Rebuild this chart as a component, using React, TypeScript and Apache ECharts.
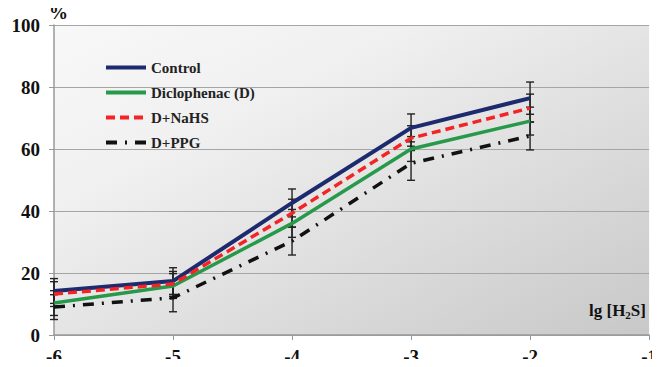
import React, { useEffect, useRef } from "react";
import * as echarts from "echarts";

const xValues = [-6, -5, -4, -3, -2];
const control = [14.2, 17.4, 42.6, 66.8, 76.4];
const diclofenac = [10.3, 15.8, 36.0, 60.0, 69.0];
const nahs = [13.2, 16.5, 39.3, 63.5, 73.2];
const ppg = [9.0, 12.0, 30.3, 55.4, 64.2];
const controlErr = [4.0, 4.3, 4.5, 4.5, 5.2];
const diclofenacErr = [4.0, 4.0, 4.5, 4.0, 4.5];
const nahsErr = [4.0, 4.0, 4.5, 4.0, 4.5];
const ppgErr = [4.0, 4.5, 4.5, 5.5, 4.5];
const seriesNames = ["Control", "Diclophenac (D)", "D+NaHS", "D+PPG"];

const FONT = "Times New Roman, Liberation Serif, DejaVu Serif, serif";

function errorSeries(vals: number[], errs: number[]) {
  return {
    type: "custom",
    silent: true,
    z: 1,
    data: xValues.map((x, i) => [x, vals[i] - errs[i], vals[i] + errs[i]]),
    renderItem: (params: any, api: any) => {
      const x = api.value(0);
      const lo = api.coord([x, api.value(1)]);
      const hi = api.coord([x, api.value(2)]);
      const w = 4;
      const st = { stroke: "#222", lineWidth: 1.4 };
      return {
        type: "group",
        children: [
          { type: "line", shape: { x1: lo[0], y1: lo[1], x2: hi[0], y2: hi[1] }, style: st },
          { type: "line", shape: { x1: lo[0] - w, y1: lo[1], x2: lo[0] + w, y2: lo[1] }, style: st },
          { type: "line", shape: { x1: hi[0] - w, y1: hi[1], x2: hi[0] + w, y2: hi[1] }, style: st },
        ],
      };
    },
  };
}

export default function App() {
  const ref = useRef<HTMLDivElement>(null);
  useEffect(() => {
    const chart = echarts.init(ref.current!, null, { renderer: "svg" });
    const mk = (name: string, vals: number[], color: string, width: number, type: any, z: number) => ({
      name,
      type: "line",
      z,
      symbol: "none",
      data: xValues.map((x, i) => [x, vals[i]]),
      lineStyle: { color, width, type },
      itemStyle: { color },
    });
    chart.setOption({
      animation: false,
      backgroundColor: "#ffffff",
      grid: {
        left: 54,
        right: 7,
        top: 25,
        bottom: 32,
        show: true,
        borderWidth: 0,
        backgroundColor: new echarts.graphic.LinearGradient(0, 0, 1, 1, [
          { offset: 0, color: "#f8f8f8" },
          { offset: 0.3, color: "#f0f0f0" },
          { offset: 1, color: "#c8c8c8" },
        ]),
      },
      legend: {
        orient: "vertical",
        left: 99,
        top: 55,
        itemWidth: 40,
        itemHeight: 14,
        itemGap: 10,
        data: seriesNames,
        itemStyle: { opacity: 0 },
        lineStyle: { width: 4 },
        textStyle: { fontFamily: FONT, fontWeight: "bold", fontSize: 15, color: "#222" },
      },
      xAxis: {
        type: "value",
        min: -6,
        max: -1,
        interval: 1,
        axisLine: { show: true, lineStyle: { color: "#999", width: 1.5 } },
        axisTick: { show: true, length: 5, lineStyle: { color: "#999" } },
        splitLine: { show: false },
        axisLabel: { margin: 12, fontFamily: FONT, fontWeight: "bold", fontSize: 19, color: "#111" },
      },
      yAxis: {
        type: "value",
        min: 0,
        max: 100,
        interval: 20,
        axisLine: { show: true, lineStyle: { color: "#999", width: 1.5 } },
        axisTick: { show: true, length: 5, lineStyle: { color: "#999" } },
        splitLine: { show: true, lineStyle: { color: "#a5a5a5", width: 1.2 } },
        axisLabel: { margin: 14, fontFamily: FONT, fontWeight: "bold", fontSize: 19, color: "#111" },
      },
      graphic: [
        {
          type: "text",
          left: 49,
          top: 3,
          style: { text: "%", fontFamily: FONT, fontWeight: "bold", fontSize: 19, fill: "#111" },
        },
        {
          type: "text",
          right: 14,
          top: 302,
          style: {
            text: "lg [H{s|2}S]",
            fontFamily: FONT,
            fontWeight: "bold",
            fontSize: 17,
            fill: "#111",
            rich: { s: { fontSize: 11, fontWeight: "bold", fontFamily: FONT, padding: [8, 0, 0, 0] } },
          },
        },
      ],
      series: [
        errorSeries(control, controlErr),
        errorSeries(diclofenac, diclofenacErr),
        errorSeries(nahs, nahsErr),
        errorSeries(ppg, ppgErr),
        mk("Control", control, "#1d2a6e", 4, "solid", 5),
        mk("Diclophenac (D)", diclofenac, "#27994a", 3.5, "solid", 4),
        mk("D+NaHS", nahs, "#f42424", 3.5, [9, 5], 6),
        mk("D+PPG", ppg, "#111111", 3.5, [11, 8, 2, 8], 3),
      ],
    });
    return () => chart.dispose();
  }, []);
  return <div ref={ref} style={{ width: 660, height: 367, margin: -8 }} />;
}
